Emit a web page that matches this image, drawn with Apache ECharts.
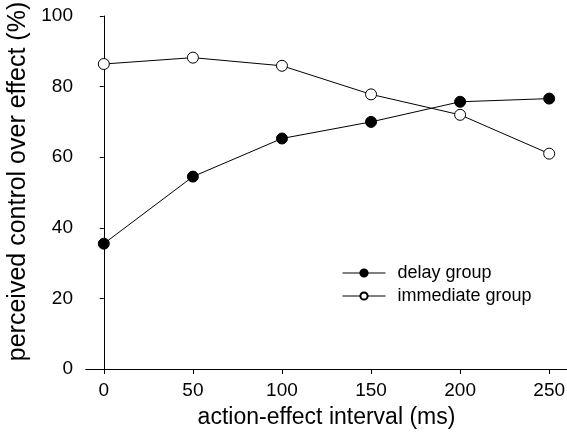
<!DOCTYPE html>
<html>
<head>
<meta charset="utf-8">
<script src="https://cdn.jsdelivr.net/npm/echarts@6/dist/echarts.min.js"></script>
<style>
  html, body { margin: 0; padding: 0; background: #fff; }
  #chart { width: 567px; height: 438px; }
</style>
</head>
<body>
<div id="chart"></div>
<script>
// action-effect interval (ms)
var intervals = [0, 50, 100, 150, 200, 250];
var delayGroup = [35.5, 54.5, 65.3, 70.0, 75.7, 76.6];
var immediateGroup = [86.4, 88.2, 85.9, 77.8, 72.0, 61.0];
var xTicks = [0, 50, 100, 150, 200, 250];

function pairs(xs, ys) {
    return xs.map(function (x, i) { return [x, ys[i]]; });
}

var font = 'Liberation Sans, Arial, sans-serif';
var chart = echarts.init(document.getElementById('chart'));

chart.setOption({
    animation: false,
    grid: { left: 86, right: 0, top: 16, bottom: 69, containLabel: false, outerBoundsMode: 'none' },
    legend: {
        orient: 'vertical',
        left: 342,
        top: 264,
        padding: 0,
        itemWidth: 43,
        itemHeight: 9,
        itemGap: 5,
        lineStyle: { width: 1 },
        textStyle: { fontFamily: font, fontSize: 18, color: '#000', padding: [0, 0, 0, 7] },
        data: ['delay group', 'immediate group']
    },
    xAxis: [{
        type: 'value',
        min: -10,
        max: 260,
        name: 'action-effect interval (ms)',
        nameLocation: 'middle',
        nameGap: 37,
        nameTextStyle: { fontFamily: font, fontSize: 23, color: '#000' },
        axisLine: { show: true, onZero: false, lineStyle: { color: '#000', width: 1 } },
        axisTick: { show: true, customValues: xTicks, length: 5, lineStyle: { color: '#000' } },
        axisLabel: { customValues: xTicks, fontFamily: font, fontSize: 19, color: '#000', margin: 12 },
        splitLine: { show: false }
    }, {
        type: 'value',
        position: 'top',
        min: -10,
        max: 260,
        axisLine: { show: true, lineStyle: { color: '#000', width: 1 } },
        axisTick: { show: false },
        axisLabel: { show: false },
        splitLine: { show: false }
    }],
    yAxis: {
        type: 'value',
        min: 0,
        max: 100,
        interval: 20,
        name: 'perceived control over effect (%)',
        nameLocation: 'middle',
        nameGap: 55,
        nameTextStyle: { fontFamily: font, fontSize: 25, color: '#000', padding: [0, 0, 0, 22] },
        axisLine: { show: true, lineStyle: { color: '#000', width: 1 } },
        axisTick: { show: true, length: 4, lineStyle: { color: '#000' } },
        axisLabel: { fontFamily: font, fontSize: 19, color: '#000', margin: 13 },
        splitLine: { show: false }
    },
    series: [{
        name: 'delay group',
        type: 'line',
        data: pairs(intervals, delayGroup),
        symbol: 'circle',
        symbolSize: 11,
        lineStyle: { color: '#000', width: 1 },
        itemStyle: { color: '#000', borderColor: '#000', borderWidth: 1 }
    }, {
        name: 'immediate group',
        type: 'line',
        data: pairs(intervals, immediateGroup),
        symbol: 'circle',
        symbolSize: 11,
        lineStyle: { color: '#000', width: 1 },
        itemStyle: { color: '#fff', borderColor: '#000', borderWidth: 1 }
    }]
});
</script>
</body>
</html>
